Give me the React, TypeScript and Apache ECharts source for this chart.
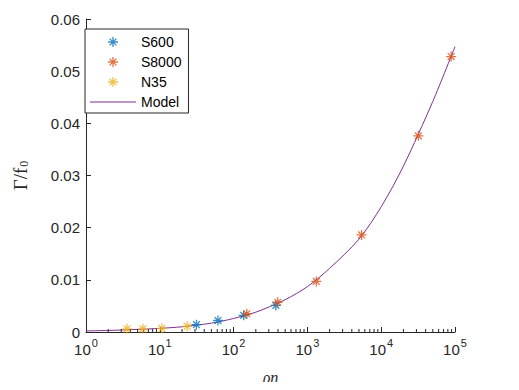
import React, { useEffect, useRef } from "react";
import * as echarts from "echarts";

const s600: [number, number][] = [
  [31.4, 0.0014],
  [61.4, 0.0022],
  [137, 0.0032],
  [373, 0.0051],
];
const s8000: [number, number][] = [
  [151, 0.0035],
  [396, 0.0057],
  [1320, 0.0097],
  [5420, 0.0186],
  [31900, 0.0376],
  [88700, 0.0528],
];
const n35: [number, number][] = [
  [3.6, 0.0006],
  [5.9, 0.0006],
  [10.7, 0.0007],
  [23.5, 0.0011],
];
const model: [number, number][] = [
  [1, 0.0002],
  [2, 0.0003],
  [5, 0.0005],
  [10, 0.0007],
  [20, 0.001],
  [50, 0.0017],
  [100, 0.0026],
  [200, 0.0038],
  [500, 0.0062],
  [1000, 0.0087],
  [2000, 0.0122],
  [5000, 0.0178],
  [10000, 0.024],
  [20000, 0.0318],
  [50000, 0.0442],
  [100000, 0.0547],
];
const yTicks = [0, 0.01, 0.02, 0.03, 0.04, 0.05, 0.06];
const decades = [1, 10, 100, 1000, 10000];
const minorMult = [2, 3, 4, 5, 6, 7, 8, 9];

const ASTERISK = "path://M5 0L5 10M0 5L10 5M1.6 1.6L8.4 8.4M8.4 1.6L1.6 8.4";
const LINE_ICON = "path://M0 0L46 0L46 1L0 1Z";
const AX = "#262626";

export default function App() {
  const ref = useRef<HTMLDivElement>(null);
  useEffect(() => {
    const chart = echarts.init(ref.current!, undefined, { renderer: "svg" });
    const minorTicks: [number, number][] = [];
    decades.forEach((d) => minorMult.forEach((m) => minorTicks.push([d * m, 0])));
    const scatter = (name: string, color: string, data: [number, number][]) => ({
      name,
      type: "scatter",
      data,
      symbol: ASTERISK,
      symbolSize: 10,
      symbolKeepAspect: true,
      itemStyle: { color: "rgba(0,0,0,0)", borderColor: color, borderWidth: 1.3 },
      z: 4,
    });
    chart.setOption({
      animation: false,
      backgroundColor: "#fff",
      grid: { left: 73, right: 64, top: 19, bottom: 52 },
      legend: {
        data: [
          "S600",
          "S8000",
          "N35",
          { name: "Model", icon: LINE_ICON, itemStyle: { borderWidth: 0 } },
        ],
        orient: "vertical",
        left: 85,
        top: 29,
        itemWidth: 46,
        itemHeight: 10,
        itemGap: 6,
        padding: [6, 7, 4, 5],
        borderColor: AX,
        borderWidth: 1,
        backgroundColor: "#fff",
        itemStyle: { borderWidth: 1.3 },
        textStyle: { fontFamily: "Liberation Sans", fontSize: 14, color: "#000" },
      },
      xAxis: {
        type: "log",
        logBase: 10,
        min: 1,
        max: 100000,
        splitLine: { show: false },
        axisLine: { show: true, onZero: false, lineStyle: { color: AX, width: 1 } },
        axisTick: { inside: true, length: 5, lineStyle: { color: AX } },
        axisLabel: {
          margin: 9,
          formatter: (v: number) => `{b|10}{s|${Math.round(Math.log10(v))}}`,
          rich: {
            b: { fontFamily: "Liberation Sans", fontSize: 15, lineHeight: 16, color: AX, verticalAlign: "bottom" },
            s: {
              fontFamily: "Liberation Sans",
              fontSize: 11,
              lineHeight: 11,
              color: AX,
              padding: [0, 0, 9, 1],
              verticalAlign: "bottom",
            },
          },
        },
        name: "ρη",
        nameLocation: "middle",
        nameGap: 37,
        nameTextStyle: { fontFamily: "Liberation Serif", fontStyle: "italic", fontSize: 16, color: AX },
      },
      yAxis: {
        type: "value",
        min: 0,
        max: 0.06,
        interval: 0.01,
        splitLine: { show: false },
        axisLine: { show: true, lineStyle: { color: AX, width: 1 } },
        axisTick: { inside: true, length: 5, lineStyle: { color: AX } },
        axisLabel: {
          margin: 6,
          fontFamily: "Liberation Sans",
          fontSize: 15,
          color: AX,
          formatter: (v: number) => {
            const t = yTicks.find((y) => Math.abs(y - v) < 1e-9);
            return t === 0 ? "0" : (t ?? v).toFixed(2);
          },
        },
        name: "{a|Γ/f}{s|0}",
        nameLocation: "middle",
        nameGap: 56,
        nameRotate: 90,
        nameTextStyle: {
          rich: {
            a: { fontFamily: "Liberation Serif", fontSize: 19, lineHeight: 19, color: AX },
            s: {
              fontFamily: "Liberation Serif",
              fontSize: 12,
              lineHeight: 12,
              color: AX,
              padding: [10, 0, 0, 1],
              verticalAlign: "bottom",
            },
          },
        },
      },
      series: [
        {
          name: "minor",
          type: "custom",
          silent: true,
          data: minorTicks,
          clip: false,
          renderItem: (_p: any, api: any) => {
            const pt = api.coord([api.value(0), 0]);
            return {
              type: "line",
              shape: { x1: pt[0], y1: pt[1], x2: pt[0], y2: pt[1] - 3 },
              style: { stroke: AX, lineWidth: 1 },
            };
          },
          z: 3,
        },
        {
          name: "Model",
          type: "line",
          data: model,
          smooth: 0.3,
          symbol: "none",
          lineStyle: { color: "#7E2F8E", width: 1 },
          itemStyle: { color: "#7E2F8E" },
          z: 2,
        },
        scatter("S600", "#0072BD", s600),
        scatter("S8000", "#D95319", s8000),
        scatter("N35", "#EDB120", n35),
      ],
    });
    return () => chart.dispose();
  }, []);
  return <div ref={ref} style={{ width: 519, height: 390, margin: -8 }} />;
}
